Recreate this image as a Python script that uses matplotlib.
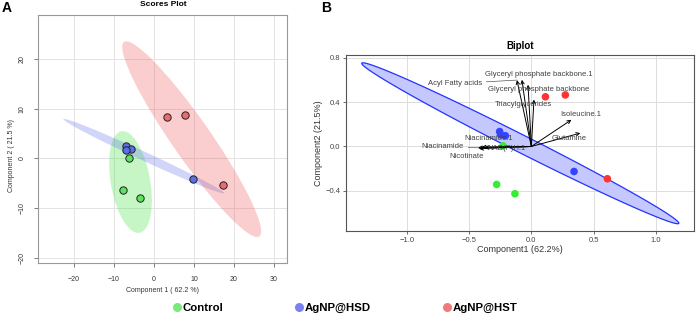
import numpy as np
import matplotlib.pyplot as plt
from matplotlib.patches import Ellipse
from matplotlib.lines import Line2D

plt.rcParams['font.family'] = ['Liberation Sans', 'DejaVu Sans']

groups = ['Control', 'AgNP@HSD', 'AgNP@HST']
point_cols = ['#5fe35f', '#5a6ee8', '#ef6b6b']
fill_cols = ['#33e033', '#5a6af0', '#f05050']
legend_cols = ['#7be87b', '#7b82ef', '#f07b7b']
bi_cols = ['#33ee33', '#3344ff', '#ff3333']

# panel A - scores
ctrl_x = [-6.3, -7.8, -3.5]
ctrl_y = [0.0, -6.3, -7.9]
hsd_x = [-7.0, -5.8, -7.1, 9.75]
hsd_y = [2.5, 1.8, 1.6, -4.1]
hst_x = [3.3, 7.75, 17.2]
hst_y = [8.3, 8.7, -5.4]

# panel B - biplot scores
bi_ctrl_x = [-0.228, -0.279, -0.132]
bi_ctrl_y = [0.006, -0.343, -0.427]
bi_hsd_x = [-0.255, -0.247, -0.209, 0.343]
bi_hsd_y = [0.135, 0.106, 0.097, -0.226]
bi_hst_x = [0.113, 0.273, 0.611]
bi_hst_y = [0.449, 0.466, -0.292]

# loadings (arrow tips) and label positions
var_names = ['Acyl Fatty acids', 'Glyceryl phosphate backbone.1', 'Glyceryl phosphate backbone',
             'Triacylglycerides', 'Isoleucine.1', 'Glutamine', 'Niacinamide.1', 'Niacinamide',
             'Nicotinate', 'NAD(P)H.1']
load_x = [-0.116, -0.076, -0.027, 0.021, 0.322, 0.394, -0.40, -0.43, -0.42, -0.38]
load_y = [0.600, 0.603, 0.558, 0.424, 0.241, 0.121, -0.005, -0.012, -0.02, -0.01]
lab_x = [-0.613, 0.059, 0.057, -0.06, 0.40, 0.306, -0.346, -0.711, -0.519, -0.199]
lab_y = [0.569, 0.653, 0.512, 0.376, 0.286, 0.076, 0.076, 0.0, -0.09, -0.018]
lab_segment = [True, False, False, False, False, False, False, True, False, False]

# ellipse enclosing the biplot scores
ell_center = (-0.089, 0.029)
ell_major = (1.274, -0.724)
ell_minor = (0.032, 0.070)

fig = plt.figure(figsize=(6.96, 3.16), dpi=100)

# ---------- A ----------
ax = fig.add_axes([0.0546, 0.1677, 0.3578, 0.7848])
sets = [(ctrl_x, ctrl_y), (hsd_x, hsd_y), (hst_x, hst_y)]
for (xs, ys), fc in zip(sets, fill_cols):
    xs = np.array(xs); ys = np.array(ys)
    cov = np.cov(xs, ys)
    vals, vecs = np.linalg.eigh(cov)
    vals = vals[::-1]; vecs = vecs[:, ::-1]
    ang = np.degrees(np.arctan2(vecs[1, 0], vecs[0, 0]))
    w, h = 2 * np.sqrt(vals * 5.991)
    ax.add_patch(Ellipse((xs.mean(), ys.mean()), w, h, angle=ang,
                         facecolor=fc, alpha=0.28, edgecolor='none', zorder=1))
for (xs, ys), pc in zip(sets, point_cols):
    ax.scatter(xs, ys, s=28, c=pc, edgecolors='#222222', linewidths=0.7, zorder=3)
ax.set_xlim(-29, 33.25)
ax.set_ylim(-21, 28.8)
ax.set_xticks([-20, -10, 0, 10, 20, 30])
ax.set_yticks([-20, -10, 0, 10, 20])
ax.grid(True, color='#e3e3e3', lw=0.7)
ax.set_axisbelow(True)
for s in ax.spines.values():
    s.set_color('#999999')
    s.set_linewidth(0.8)
ax.tick_params(labelsize=5, length=3, width=0.6, color='#666666', labelcolor='#333333', pad=6)
for t in ax.get_yticklabels():
    t.set_rotation(90)
    t.set_va('center')
fig.text(163 / 696, 1 - 5 / 316, 'Scores Plot', ha='center', va='center', fontsize=6, fontweight='bold')
fig.text(163 / 696, 1 - 291 / 316, 'Component 1 ( 62.2 %)', ha='center', va='center', fontsize=5, color='#333333')
fig.text(12 / 696, 1 - 156 / 316, 'Component 2 ( 21.5 %)', ha='center', va='center', fontsize=5,
         color='#333333', rotation=90)
fig.text(2 / 696, 1 - 8 / 316, 'A', ha='left', va='center', fontsize=10, fontweight='bold')

# ---------- B ----------
bx = fig.add_axes([0.4971, 0.269, 0.5, 0.557])
t = np.linspace(0, 2 * np.pi, 300)
ex = ell_center[0] + ell_major[0] * np.cos(t) + ell_minor[0] * np.sin(t)
ey = ell_center[1] + ell_major[1] * np.cos(t) + ell_minor[1] * np.sin(t)
bx.fill(ex, ey, facecolor='#c5c8ff', edgecolor='#2233ff', lw=0.9, zorder=1)
bi_sets = [(bi_ctrl_x, bi_ctrl_y), (bi_hsd_x, bi_hsd_y), (bi_hst_x, bi_hst_y)]
for (xs, ys), c in zip(bi_sets, bi_cols):
    bx.scatter(xs, ys, s=30, c=c, edgecolors='none', zorder=2)
for name, x, y, lx, ly, seg in zip(var_names, load_x, load_y, lab_x, lab_y, lab_segment):
    bx.annotate('', xy=(x, y), xytext=(0, 0),
                arrowprops=dict(arrowstyle='->', color='black', lw=0.7, shrinkA=0, shrinkB=0,
                                mutation_scale=6), zorder=3)
    if seg:
        bx.annotate(name, xy=(x, y), xytext=(lx, ly), ha='center', va='center', fontsize=5.5,
                    color='#404040', zorder=4,
                    arrowprops=dict(arrowstyle='-', color='#555555', lw=0.5, shrinkA=1, shrinkB=0))
    else:
        bx.text(lx, ly, name, ha='center', va='center', fontsize=5.5, color='#404040', zorder=4)
bx.set_xlim(-1.49, 1.307)
bx.set_ylim(-0.764, 0.827)
bx.set_xticks([-1.0, -0.5, 0.0, 0.5, 1.0])
bx.set_yticks([-0.4, 0.0, 0.4, 0.8])
bx.grid(True, color='#dddddd', lw=0.7)
bx.set_axisbelow(True)
for s in bx.spines.values():
    s.set_color('#555555')
    s.set_linewidth(0.8)
bx.tick_params(labelsize=5.5, length=2, width=0.6, color='#555555', labelcolor='#444444', pad=2)
bx.set_title('Biplot', fontsize=7, fontweight='bold', pad=4)
bx.set_xlabel('Component1 (62.2%)', fontsize=6.5, color='#333333', labelpad=1)
bx.set_ylabel('Component2 (21.5%)', fontsize=6.5, color='#333333', labelpad=2)
fig.text(321 / 696, 1 - 8 / 316, 'B', ha='left', va='center', fontsize=10, fontweight='bold')

# ---------- legend ----------
handles = [Line2D([], [], ls='none', marker='o', markersize=6.5, markerfacecolor=c,
                  markeredgecolor='none') for c in legend_cols]
fig.legend(handles, groups, loc='center left', bbox_to_anchor=(173 / 696, 1 - 308 / 316), ncol=3,
           frameon=False, prop={'weight': 'bold', 'size': 8.2}, handlelength=0.7,
           handletextpad=0.15, columnspacing=6.3, borderaxespad=0, borderpad=0)

fig.savefig('out.png', dpi=100)
